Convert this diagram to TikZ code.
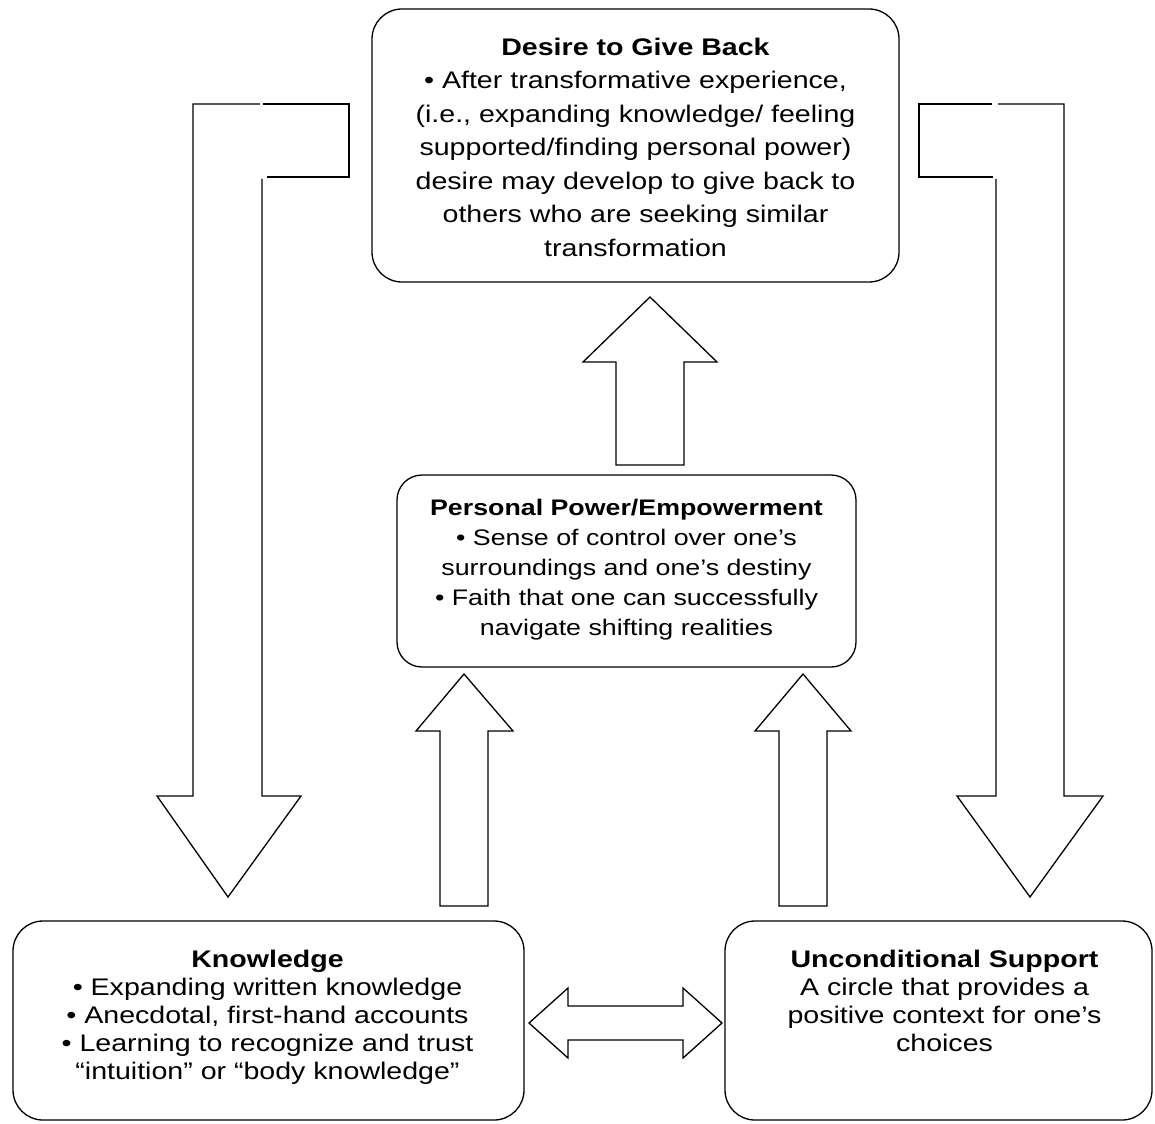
\documentclass[tikz,border=0pt]{standalone}
\usepackage{fontspec}
\setmainfont{Liberation Sans}[FakeStretch=1.19]
\begin{document}
\begin{tikzpicture}[x=1pt,y=-1pt,
  box/.style={draw=black, line width=1.3pt, rounded corners=30pt, inner sep=0pt},
  txt/.style={align=center, inner sep=0pt, text=black},
  blockarrow/.style={draw=black, line width=1.3pt, fill=white, line join=miter},
  outline/.style={draw=black, line width=1.3pt, line join=miter}]
\useasboundingbox (0,0) rectangle (1155,1123);

% boxes
\node[box, minimum width=527pt, minimum height=273pt] (give) at (635.5,145.5) {};
\node[box, minimum width=459pt, minimum height=192pt, rounded corners=25pt] (power) at (626.5,571) {};
\node[box, minimum width=511pt, minimum height=199pt] (know) at (268.5,1020.5) {};
\node[box, minimum width=427pt, minimum height=199pt] (supp) at (938.5,1020.5) {};

% texts
\node[txt, font=\fontsize{24}{33.5}\selectfont] (givet) at (635.5,147) {\textbf{Desire to Give Back}\\
• After transformative experience,\\
(i.e., expanding knowledge/ feeling\\
supported/finding personal power)\\
desire may develop to give back to\\
others who are seeking similar\\
transformation};
\node[txt, font=\fontsize{22.5}{30}\selectfont] (powert) at (626.5,570) {\textbf{Personal Power/Empowerment}\\
• Sense of control over one’s\\
surroundings and one’s destiny\\
• Faith that one can successfully\\
navigate shifting realities};
\node[txt, font=\fontsize{24}{28}\selectfont] (knowt) at (267.5,1017) {\textbf{Knowledge}\\
• Expanding written knowledge\\
• Anecdotal, first-hand accounts\\
• Learning to recognize and trust\\
“intuition” or “body knowledge”};
\node[txt, font=\fontsize{24}{28}\selectfont] (suppt) at (944.5,1001) {\textbf{Unconditional Support}\\
A circle that provides a\\
positive context for one’s\\
choices};

% bent arrow left: give -> know
\path[fill=white] (349,104) -- (193,104) -- (193,796) -- (157,796) -- (228,897)
  -- (301,796) -- (262,796) -- (262,177) -- (349,177) -- cycle;
\draw[outline] (263,104) -- (349,104) -- (349,177) -- (267,177);
\draw[outline] (260,104) -- (193,104) -- (193,796) -- (157,796) -- (228,897)
  -- (301,796) -- (262,796) -- (262,179);
% bent arrow right: give -> supp
\path[fill=white] (919,104) -- (1064,104) -- (1064,796) -- (1103,796) -- (1030,897)
  -- (957,796) -- (996,796) -- (996,177) -- (919,177) -- cycle;
\draw[outline] (992,104) -- (919,104) -- (919,177) -- (993,177);
\draw[outline] (998,104) -- (1064,104) -- (1064,796) -- (1103,796) -- (1030,897)
  -- (957,796) -- (996,796) -- (996,179);
% up arrow: power -> give
\draw[blockarrow] (616,465) -- (616,362) -- (583,362) -- (650,297) -- (717,362)
  -- (684,362) -- (684,465) -- cycle;
% up arrow: know -> power
\draw[blockarrow] (440,906) -- (440,731) -- (416,731) -- (464,674) -- (513,731)
  -- (488,731) -- (488,906) -- cycle;
% up arrow: supp -> power
\draw[blockarrow] (779,906) -- (779,731) -- (755,731) -- (803,674) -- (851,731)
  -- (827,731) -- (827,906) -- cycle;
% double arrow know <-> supp
\draw[blockarrow] (529,1023) -- (568,988) -- (568,1006) -- (683,1006) -- (683,988)
  -- (722,1023) -- (683,1058) -- (683,1040) -- (568,1040) -- (568,1058) -- cycle;
\end{tikzpicture}
\end{document}
